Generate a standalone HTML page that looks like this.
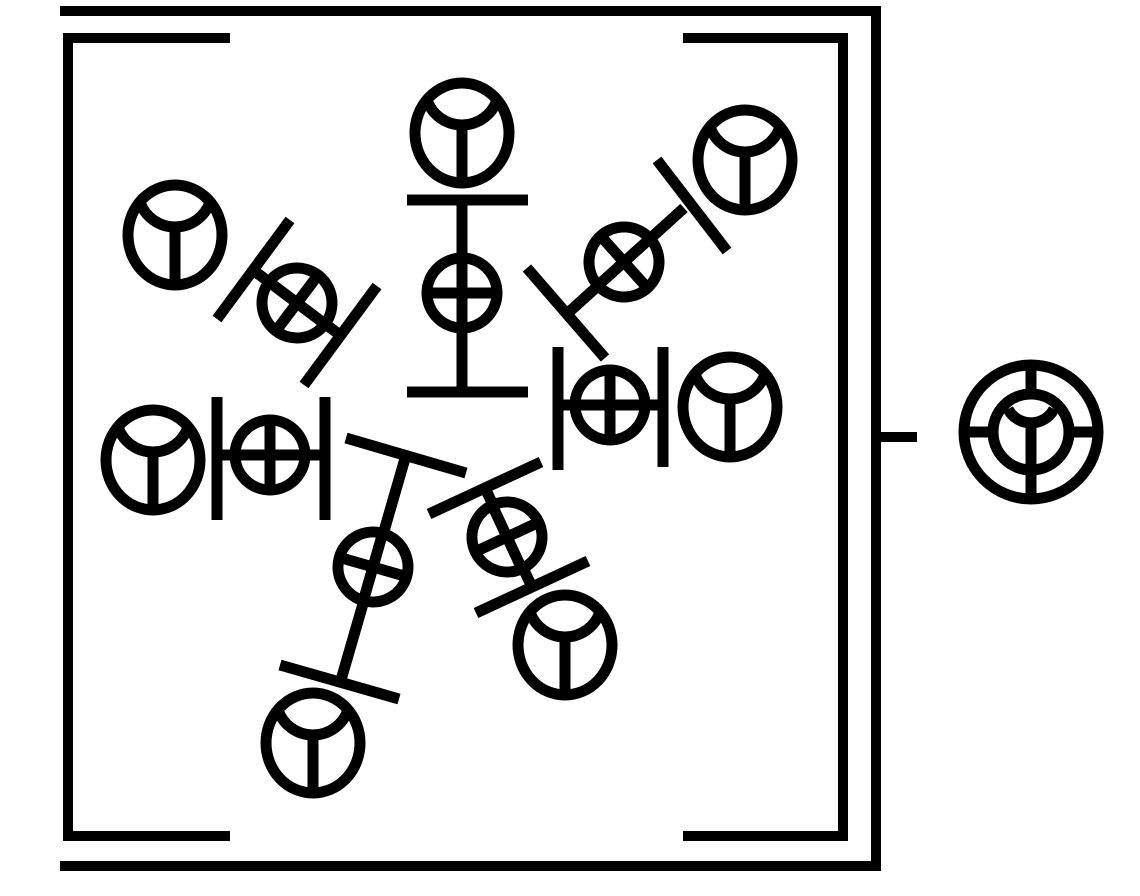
<!DOCTYPE html>
<html><head><meta charset="utf-8"><style>html,body{margin:0;padding:0;background:#fff}svg{display:block}</style></head>
<body>
<svg width="1140" height="896" viewBox="0 0 1140 896" xmlns="http://www.w3.org/2000/svg">
<defs>
<g id="ysym"><ellipse rx="47" ry="50" fill="none" stroke="#000" stroke-width="11"/><path d="M-35,-33 A37 37 0 0 0 35,-33" fill="none" stroke="#000" stroke-width="11"/><line x1="0" y1="-4" x2="0" y2="50" stroke="#000" stroke-width="11"/></g>
<g id="osym"><circle r="35" fill="#fff" stroke="#000" stroke-width="11"/><line x1="-35" y1="0" x2="35" y2="0" stroke="#000" stroke-width="11"/><line x1="0" y1="-35" x2="0" y2="35" stroke="#000" stroke-width="11"/></g>
</defs>
<g stroke="#000" stroke-width="10" fill="none">
<polyline points="60,11 876,11 876,866 60,866"/>
<polyline points="230,38 68,38 68,836 230,836"/>
<polyline points="683,38 843,38 843,836 683,836"/>
<line x1="876" y1="437" x2="917" y2="437"/>
</g>
<g stroke="#000" stroke-width="11" fill="none">
<circle cx="1031" cy="432" r="67"/>
<circle cx="1031" cy="432" r="38"/>
<line x1="964" y1="432" x2="994" y2="432"/><line x1="1068" y1="432" x2="1098" y2="432"/>
<line x1="1031" y1="365" x2="1031" y2="395"/><line x1="1031" y1="469" x2="1031" y2="499"/>
<path d="M1008,409 A26 26 0 0 0 1054,409"/><line x1="1031" y1="428" x2="1031" y2="469"/>
</g>
<g stroke="#000" stroke-width="11" fill="none">
<g>
<line x1="407" y1="200" x2="528" y2="200"/><line x1="462" y1="200" x2="462" y2="392"/><line x1="407" y1="392" x2="528" y2="392"/>
<use href="#osym" transform="translate(462,293)"/><use href="#ysym" transform="translate(462,133)"/>
</g>
<g>
<line x1="657" y1="160" x2="727" y2="251"/><line x1="569" y1="312" x2="684" y2="208"/><line x1="527" y1="268" x2="605" y2="358"/>
<use href="#osym" transform="translate(624,262) rotate(-42)"/><use href="#ysym" transform="translate(745,160)"/>
</g>
<g>
<line x1="558" y1="347" x2="558" y2="470"/><line x1="663" y1="347" x2="663" y2="467"/><line x1="558" y1="405" x2="663" y2="405"/>
<use href="#osym" transform="translate(610,405)"/><use href="#ysym" transform="translate(730,407)"/>
</g>
<g>
<line x1="217" y1="319" x2="290" y2="220"/><line x1="253" y1="270" x2="340" y2="335"/><line x1="304" y1="385" x2="377" y2="286"/>
<use href="#osym" transform="translate(297,303) rotate(37)"/><use href="#ysym" transform="translate(175,235)"/>
</g>
<g>
<line x1="217" y1="397" x2="217" y2="520"/><line x1="325" y1="397" x2="325" y2="520"/><line x1="217" y1="455" x2="325" y2="455"/>
<use href="#osym" transform="translate(270,455)"/><use href="#ysym" transform="translate(153,460)"/>
</g>
<g>
<line x1="346" y1="438" x2="466" y2="473"/><line x1="406" y1="455" x2="341" y2="680"/><line x1="280" y1="665" x2="399" y2="699"/>
<use href="#osym" transform="translate(373,567) rotate(16)"/><use href="#ysym" transform="translate(313,743)"/>
</g>
<g>
<line x1="429" y1="514" x2="541" y2="462"/><line x1="485" y1="488" x2="532" y2="587"/><line x1="476" y1="613" x2="588" y2="561"/>
<use href="#osym" transform="translate(507,537) rotate(-25)"/><use href="#ysym" transform="translate(565,645)"/>
</g>
</g>
</svg>
</body></html>
